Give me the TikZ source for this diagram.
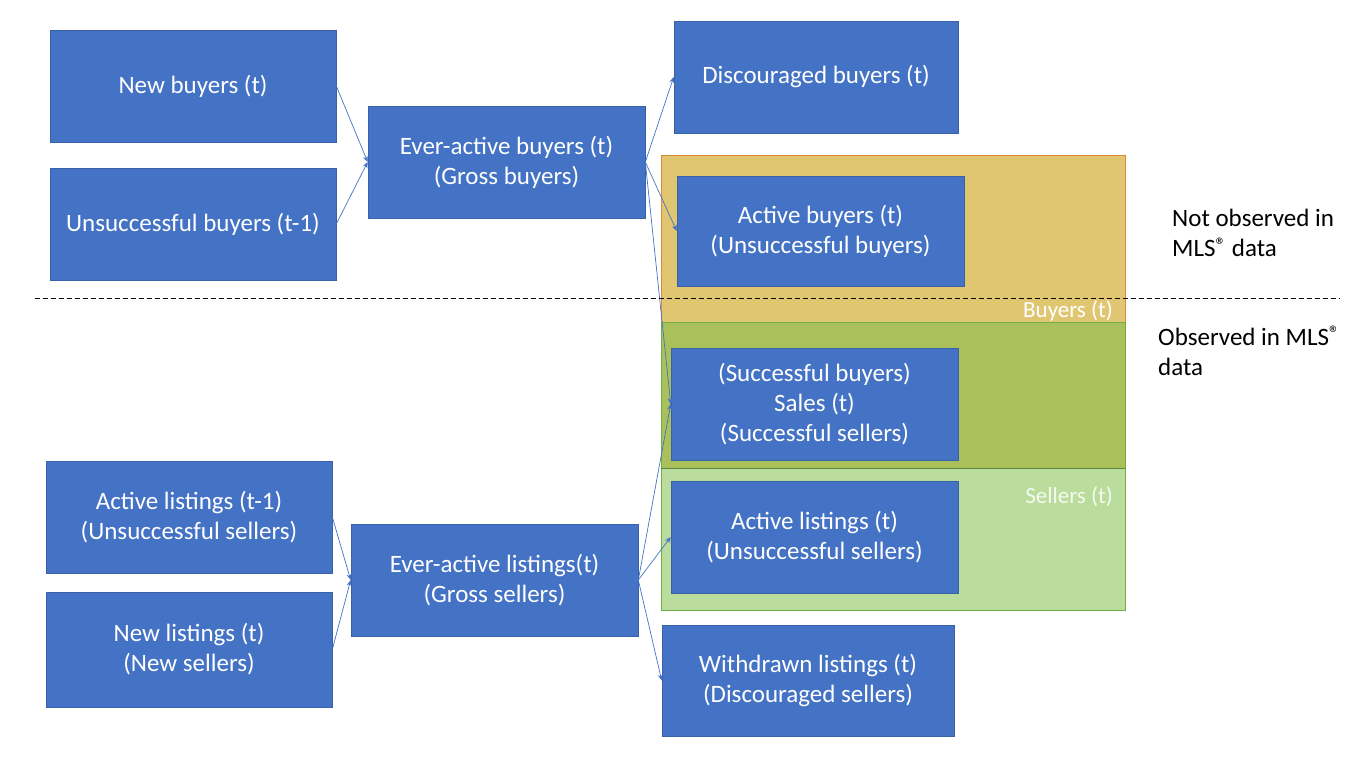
\documentclass[tikz,border=0pt]{standalone}
\usepackage{fontspec}
\setmainfont{Carlito}
\usepackage{tikz}
\usetikzlibrary{arrows.meta}

\definecolor{boxblue}{HTML}{4472C4}
\definecolor{buyfill}{HTML}{E1C672}
\definecolor{buyedge}{HTML}{E0883A}
\definecolor{salefill}{HTML}{AAC05A}
\definecolor{sellfill}{HTML}{BADC9C}
\definecolor{selledge}{HTML}{70AD47}
\newcommand{\regmark}{{\fontsize{21}{21}\selectfont\raisebox{0.45ex}{®}}}

\begin{document}
\begin{tikzpicture}[x=1pt, y=-1pt,
        flowbox/.style={draw=boxblue!85!black, line width=0.6pt, fill=boxblue, text=white,
            align=center, inner sep=0pt, minimum width=286pt, minimum height=112pt,
            font=\fontsize{25}{30}\selectfont},
        flow/.style={-{Stealth[length=6pt, width=5pt]}, draw=boxblue, line width=0.7pt},
        sidetext/.style={anchor=north west, align=left, inner sep=0pt,
            font=\fontsize{25}{30}\selectfont}]
        \useasboundingbox (0,0) rectangle (1364,766);

        % Shaded regions
        \fill[buyfill] (661,155) rectangle (1125,322);
        \draw[buyedge, line width=0.8pt] (661,322) |- (1125,155) -- (1125,322);
        \fill[salefill] (661,322) rectangle (1125,468);
        \fill[sellfill] (661,468) rectangle (1125,610);
        \draw[selledge, line width=0.8pt] (661,322) -- (661,610) -- (1125,610) -- (1125,322) -- cycle;
        \draw[selledge!80!black, line width=0.5pt] (661,468) -- (1125,468);

        % Buyers
        \node[flowbox] (newb) at (193, 86) {New buyers (t)};
        \node[flowbox] (unsb) at (193, 224) {Unsuccessful buyers (t-1)};
        \node[flowbox, minimum width=277pt] (everb) at (506.5, 162) {Ever-active buyers (t)\\(Gross buyers)};
        \node[flowbox, minimum width=284pt] (disc) at (816, 77) {Discouraged buyers (t)};
        \node[flowbox, minimum width=287pt, minimum height=110pt] (actb) at (820.5, 231) {Active buyers (t)\\(Unsuccessful buyers)};

        % Sales
        \node[flowbox, minimum width=287pt] (sales) at (814.5, 404) {(Successful buyers)\\Sales (t)\\(Successful sellers)};

        % Sellers
        \node[flowbox, minimum width=287pt] (actl) at (814.5, 537) {Active listings (t)\\(Unsuccessful sellers)};
        \node[flowbox] (actl1) at (189, 517) {Active listings (t-1)\\(Unsuccessful sellers)};
        \node[flowbox, minimum height=115pt] (newl) at (189, 649.5) {New listings (t)\\(New sellers)};
        \node[flowbox, minimum width=287pt] (everl) at (494.5, 580) {Ever-active listings(t)\\(Gross sellers)};
        \node[flowbox, minimum width=292pt, minimum height=111pt] (withd) at (808, 680.5) {Withdrawn listings (t)\\(Discouraged sellers)};

        % Connections
        \draw[flow] (newb.east) -- (everb.west);
        \draw[flow] (unsb.east) -- (everb.west);
        \draw[flow] (everb.east) -- (disc.west);
        \draw[flow] (everb.east) -- (actb.west);
        \draw[flow] (everb.east) -- (sales.west);
        \draw[flow] (actl1.east) -- (everl.west);
        \draw[flow] (newl.east) -- (everl.west);
        \draw[flow] (everl.east) -- (sales.west);
        \draw[flow] (everl.east) -- (actl.west);
        \draw[flow] (everl.east) -- (withd.west);

        % Observation boundary
        \draw[dashed, line width=0.8pt, dash pattern=on 5pt off 3pt] (35,298) -- (1340,298);

        % Region labels
        \node[anchor=east, text=white, inner sep=0pt, font=\fontsize{23}{25}\selectfont] (buylbl) at (1113, 311) {Buyers (t)};
        \node[anchor=east, text=white!85!sellfill, inner sep=0pt, font=\fontsize{23}{25}\selectfont] (selllbl) at (1113, 497) {Sellers (t)};

        % Side notes
        \node[sidetext] (notobs) at (1172, 209) {Not observed in\\MLS\regmark{} data};
        \node[sidetext] (obs) at (1158, 326) {Observed in MLS\regmark\\data};
    \end{tikzpicture}
\end{document}
